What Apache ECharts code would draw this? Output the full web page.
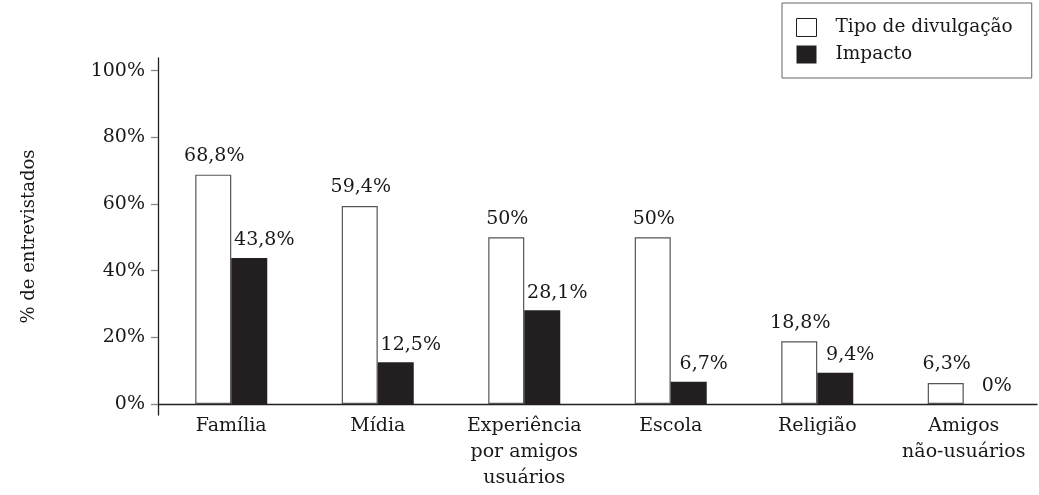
<!DOCTYPE html>
<html>
<head>
<meta charset="UTF-8">
<title>Tipo de divulgação e impacto</title>
<script src="https://cdn.jsdelivr.net/npm/echarts@6/dist/echarts.min.js"></script>
<style>
  html, body { margin: 0; padding: 0; background: #fff; }
  #chart { width: 1039px; height: 495px; }
</style>
</head>
<body>
<div id="chart"></div>
<script>
// dados
var categorias = ['Família', 'Mídia', 'Experiência\npor amigos\nusuários', 'Escola', 'Religião', 'Amigos\nnão-usuários'];
var tipoDivulgacao = [68.8, 59.4, 50, 50, 18.8, 6.3];
var impacto = [43.8, 12.5, 28.1, 6.7, 9.4, 0];
var rotulosTipo = ['68,8%', '59,4%', '50%', '50%', '18,8%', '6,3%'];
var rotulosImpacto = ['43,8%', '12,5%', '28,1%', '6,7%', '9,4%', '0%'];
var ticksY = [0, 20, 40, 60, 80, 100];

var fonte = 'DejaVu Serif';
var corTexto = '#1a1718';

var option = {
  animation: false,
  textStyle: { fontFamily: fonte, color: corTexto },
  grid: { left: 158, right: 2, top: 58, bottom: 80, outerBoundsMode: 'none', containLabel: false },
  legend: {
    orient: 'vertical',
    left: 782,
    top: 3,
    padding: [15, 19, 14, 14],
    itemGap: 8,
    itemWidth: 20,
    itemHeight: 18,
    borderColor: '#666',
    borderWidth: 1,
    borderRadius: 0,
    textStyle: { fontFamily: fonte, fontSize: 18.5, color: corTexto, padding: [0, 0, 0, 14] },
    data: [
      { name: 'Tipo de divulgação', icon: 'rect', itemStyle: { color: '#fff', borderColor: '#231f20', borderWidth: 1 } },
      { name: 'Impacto', icon: 'rect', itemStyle: { color: '#231f20' } }
    ]
  },
  xAxis: {
    type: 'category',
    data: categorias,
    axisLine: { onZero: true, lineStyle: { color: '#231f20', width: 1.3 } },
    axisTick: { show: false },
    axisLabel: {
      fontFamily: fonte, fontSize: 19, color: corTexto,
      margin: -2, lineHeight: 26, interval: 0
    }
  },
  yAxis: {
    type: 'value',
    min: -3.3,
    max: 103.8,
    name: '% de entrevistados',
    nameLocation: 'middle',
    nameRotate: 90,
    nameGap: 120,
    nameTextStyle: { fontFamily: fonte, fontSize: 18, color: corTexto },
    splitLine: { show: false },
    axisLine: { show: true, lineStyle: { color: '#231f20', width: 1.3 } },
    axisTick: {
      show: true, length: 7, customValues: ticksY,
      lineStyle: { color: '#888', width: 1.3 }
    },
    axisLabel: {
      customValues: ticksY,
      margin: 13,
      fontFamily: fonte, fontSize: 19, color: corTexto,
      formatter: function (v) { return Math.round(v) + '%'; }
    }
  },
  series: [
    {
      name: 'Tipo de divulgação',
      type: 'bar',
      barWidth: 36,
      barGap: '0%',
      data: tipoDivulgacao,
      itemStyle: { color: '#fff', borderColor: '#555', borderWidth: 1.2 },
      label: {
        show: true, position: 'top', distance: 9, offset: [1, 0],
        fontFamily: fonte, fontSize: 19, color: corTexto,
        formatter: function (p) { return rotulosTipo[p.dataIndex]; }
      }
    },
    {
      name: 'Impacto',
      type: 'bar',
      barWidth: 36,
      barGap: '0%',
      data: impacto,
      itemStyle: { color: '#231f20' },
      label: {
        show: true, position: 'top', distance: 8, offset: [15, 0],
        fontFamily: fonte, fontSize: 19, color: corTexto,
        formatter: function (p) { return rotulosImpacto[p.dataIndex]; }
      }
    }
  ]
};

var myChart = echarts.init(document.getElementById('chart'));
myChart.setOption(option);
</script>
</body>
</html>
